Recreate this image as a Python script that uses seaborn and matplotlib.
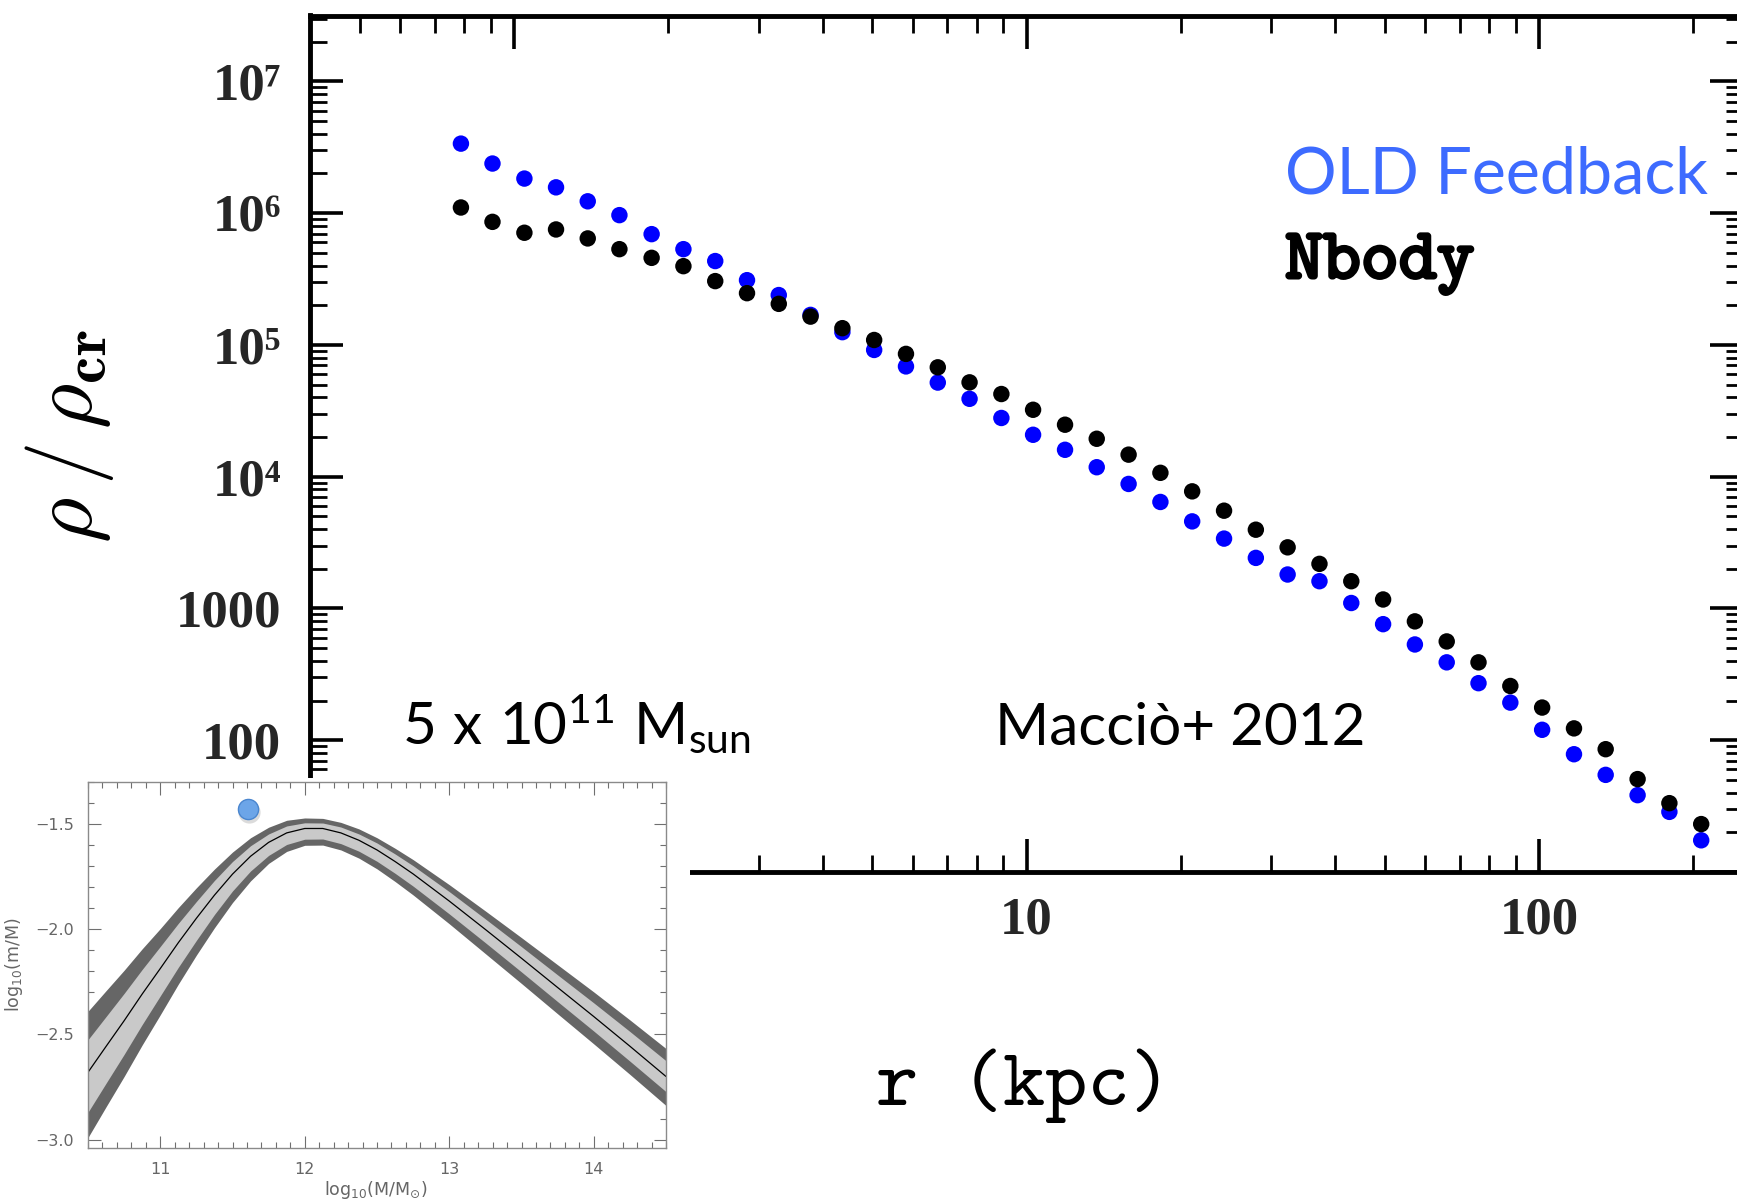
import numpy as np
import pandas as pd
import matplotlib
matplotlib.use("Agg")
import matplotlib.pyplot as plt
import seaborn as sns
from matplotlib.patches import Rectangle
from matplotlib.ticker import LogLocator, MultipleLocator, NullFormatter
import matplotlib.patheffects as pe

# ---------------- data: main panel ----------------
r_kpc = [0.788, 0.908, 1.048, 1.208, 1.393, 1.606, 1.856, 2.141, 2.470, 2.849,
         3.286, 3.790, 4.373, 5.044, 5.819, 6.713, 7.743, 8.933, 10.30, 11.89,
         13.71, 15.82, 18.25, 21.05, 24.29, 28.02, 32.32, 37.29, 43.02, 49.63,
         57.25, 66.05, 76.19, 87.9, 101.4, 117.0, 134.9, 155.7, 179.6, 207.2]

rho_nbody = [1.104e6, 8.59e5, 7.10e5, 7.52e5, 6.43e5, 5.33e5, 4.58e5, 3.96e5, 3.05e5, 2.47e5,
             2.05e5, 1.64e5, 1.34e5, 1.09e5, 8.55e4, 6.76e4, 5.20e4, 4.24e4, 3.22e4, 2.48e4,
             1.94e4, 1.47e4, 1.07e4, 7.74e3, 5.52e3, 3.96e3, 2.91e3, 2.18e3, 1.61e3, 1.17e3,
             798, 562, 390, 258, 177, 123, 85.5, 50.7, 33.3, 23.1]

rho_old = [3.37e6, 2.38e6, 1.83e6, 1.57e6, 1.23e6, 9.66e5, 6.93e5, 5.33e5, 4.33e5, 3.10e5,
           2.39e5, 1.69e5, 1.25e5, 9.16e4, 6.87e4, 5.18e4, 3.90e4, 2.79e4, 2.08e4, 1.60e4,
           1.18e4, 8.81e3, 6.43e3, 4.58e3, 3.39e3, 2.42e3, 1.81e3, 1.61e3, 1.10e3, 760,
           533, 390, 271, 193, 120, 78.3, 54.6, 38.3, 28.6, 17.4]

series_names = ["OLD Feedback", "Nbody"]
y_ticks = [10, 100, 1000, 1e4, 1e5, 1e6, 1e7]
y_ticklabels = ["10", "100", "1000", "10\u2074", "10\u2075", "10\u2076", "10\u2077"]
x_ticks = [1, 10, 100]
x_ticklabels = ["1", "10", "100"]

# ---------------- data: inset ----------------
logM = [10.5, 10.625, 10.75, 10.875, 11.0, 11.125, 11.25, 11.375, 11.5, 11.625, 11.75, 11.875,
        12.0, 12.125, 12.25, 12.375, 12.5, 12.625, 12.75, 13.0, 13.25, 13.5, 13.75, 14.0,
        14.25, 14.5]
frac_mid = [-2.68, -2.557, -2.435, -2.308, -2.187, -2.064, -1.948, -1.838, -1.738, -1.653,
            -1.587, -1.542, -1.521, -1.521, -1.542, -1.577, -1.623, -1.678, -1.737, -1.866,
            -2.001, -2.138, -2.277, -2.415, -2.556, -2.70]
frac_outer_hi = [-2.39, -2.292, -2.195, -2.093, -1.997, -1.897, -1.803, -1.714, -1.633, -1.565,
                 -1.515, -1.482, -1.471, -1.473, -1.492, -1.523, -1.565, -1.615, -1.669, -1.788,
                 -1.913, -2.04, -2.169, -2.298, -2.431, -2.567]
frac_inner_hi = [-2.525, -2.415, -2.305, -2.191, -2.082, -1.972, -1.868, -1.768, -1.678, -1.603,
                 -1.547, -1.509, -1.494, -1.495, -1.514, -1.547, -1.59, -1.642, -1.698, -1.821,
                 -1.951, -2.083, -2.217, -2.35, -2.486, -2.625]
frac_inner_lo = [-2.87, -2.732, -2.595, -2.453, -2.317, -2.181, -2.053, -1.93, -1.818, -1.723,
                 -1.649, -1.597, -1.572, -1.571, -1.593, -1.629, -1.677, -1.734, -1.795, -1.927,
                 -2.064, -2.203, -2.344, -2.484, -2.627, -2.772]
frac_outer_lo = [-2.99, -2.844, -2.70, -2.55, -2.407, -2.261, -2.123, -1.993, -1.873, -1.77,
                 -1.687, -1.63, -1.601, -1.60, -1.623, -1.662, -1.713, -1.773, -1.837, -1.974,
                 -2.116, -2.258, -2.402, -2.545, -2.69, -2.838]
halo_point_logM = [11.61]
halo_point_frac = [-1.426]

# ---------------- figure ----------------
sns.set_style("white")
plt.rcParams["font.family"] = ["DejaVu Sans"]
plt.rcParams["mathtext.fontset"] = "cm"

W, H = 1737, 1203
fig = plt.figure(figsize=(W / 100, H / 100), dpi=100)
fig.patch.set_facecolor("white")

ax = fig.add_axes([310 / W, 1 - 872 / H, (1743 - 310) / W, (872 - 15.5) / H])
ax.set_facecolor("white")

df = pd.DataFrame({
    "r": r_kpc + r_kpc,
    "rho": rho_old + rho_nbody,
    "model": [series_names[0]] * len(r_kpc) + [series_names[1]] * len(r_kpc),
})
sns.scatterplot(data=df, x="r", y="rho", hue="model", hue_order=series_names,
                palette={"OLD Feedback": "#0000ff", "Nbody": "#000000"},
                s=140, linewidth=0, marker="o", legend=False, ax=ax, zorder=3)

ax.set_xscale("log")
ax.set_yscale("log")
ax.set_xlabel("")
ax.set_ylabel("")

tick_font = dict(family=["Liberation Serif", "DejaVu Serif"], weight="bold", size=38)
ax.set_yticks(y_ticks, labels=y_ticklabels, **tick_font)
ax.set_xticks(x_ticks, labels=x_ticklabels, **tick_font)
ax.yaxis.set_minor_locator(LogLocator(base=10, subs=np.arange(2, 10), numticks=100))
ax.xaxis.set_minor_locator(LogLocator(base=10, subs=np.arange(2, 10), numticks=100))
ax.yaxis.set_minor_formatter(NullFormatter())
ax.xaxis.set_minor_formatter(NullFormatter())
ax.set_ylim(10, 10 ** 7.5)
ax.set_xlim(0.4, 250)

ax.tick_params(which="both", direction="in", left=True, bottom=True, top=True, right=True,
               color="black")
ax.tick_params(which="major", length=24, width=2.6)
ax.tick_params(which="minor", length=12, width=2.0)
ax.tick_params(axis="y", which="major", pad=21)
ax.tick_params(axis="x", which="major", pad=18)
for sp in ax.spines.values():
    sp.set_linewidth(3.5)
    sp.set_color("black")

# white panel behind the inset (pasted-figure look)
fig.add_artist(Rectangle((0, 0), 690 / W, 1 - 778 / H, transform=fig.transFigure,
                         facecolor="white", edgecolor="none", zorder=5))

# annotations
fig.text(1285 / W, 1 - 193 / H, "OLD Feedback", color="#3d6bff",
         family=["Lato", "DejaVu Sans"], fontsize=46.5, ha="left", va="baseline", zorder=4)
fig.text(1285 / W, 1 - 278 / H, "Nbody", color="black",
         family=["cmtt10", "DejaVu Sans Mono"], fontsize=52,
         ha="left", va="baseline", zorder=4,
         path_effects=[pe.withStroke(linewidth=2.2, foreground="black")])
fig.text(402 / W, 1 - 745 / H, r"$\mathregular{5\ x\ 10^{11}\ M_{sun}}$", color="black",
         family=["Lato", "DejaVu Sans"], fontsize=42, ha="left", va="baseline", zorder=4)
fig.text(995 / W, 1 - 745 / H, "Macciò+ 2012", color="black",
         family=["Lato", "DejaVu Sans"], fontsize=42, ha="left", va="baseline", zorder=4)
fig.text(1024 / W, 1 - 1105 / H, "r (kpc)", color="black",
         family=["cmtt10", "DejaVu Sans Mono"], fontsize=58,
         ha="center", va="baseline", zorder=4)
fig.text(70 / W, 1 - 436 / H, r"$\rho\,/\,\rho_{\mathbf{cr}}$", color="black",
         fontsize=63, rotation=90, ha="center", va="center", zorder=4)

# ---------------- inset ----------------
axi = fig.add_axes([88 / W, 1 - 1148 / H, (666 - 88) / W, (1148 - 782) / H])
axi.set_zorder(6)
axi.set_facecolor("white")
axi.fill_between(logM, frac_outer_lo, frac_outer_hi, color="#666666", linewidth=0)
axi.fill_between(logM, frac_inner_lo, frac_inner_hi, color="#c9c9c9", linewidth=0)
sns.lineplot(x=logM, y=frac_mid, color="black", linewidth=0.9, ax=axi)
axi.plot([v + 0.006 for v in halo_point_logM], [v - 0.018 for v in halo_point_frac], "o",
         ms=16, color="#9a9a9a", alpha=0.35, mew=0, zorder=4)
axi.plot(halo_point_logM, halo_point_frac, "o", ms=14.5, mfc="#6ca5e8", mec="#4a86cf",
         mew=1.0, zorder=5)
axi.set_xlim(10.5, 14.5)
axi.set_ylim(-3.04, -1.30)
axi.set_xticks([11, 12, 13, 14])
axi.set_yticks([-3.0, -2.5, -2.0, -1.5])
axi.xaxis.set_minor_locator(MultipleLocator(0.1))
axi.yaxis.set_minor_locator(MultipleLocator(0.1))
axi.tick_params(which="both", direction="in", left=True, bottom=True, top=True, right=True,
                color="#6f6f6f", labelcolor="#666666", labelsize=11.5, width=0.8)
axi.tick_params(which="major", length=9, pad=10)
axi.tick_params(which="minor", length=4.5)
for lab in axi.get_xticklabels() + axi.get_yticklabels():
    lab.set_family(["DejaVu Sans"])
for sp in axi.spines.values():
    sp.set_linewidth(1.0)
    sp.set_color("#8a8a8a")
axi.set_xlabel("")
axi.set_ylabel("")
fig.text(14 / W, 1 - 965 / H, r"$\mathregular{log_{10}(m/M)}$", color="#666666",
         fontsize=12.5, rotation=90, ha="center", va="center", zorder=7)
fig.text(376 / W, 1 - 1190 / H, r"$\mathregular{log_{10}(M/M_{\odot})}$", color="#666666",
         fontsize=12.5, ha="center", va="center", zorder=7)

fig.savefig("out.png", dpi=100, facecolor="white")
